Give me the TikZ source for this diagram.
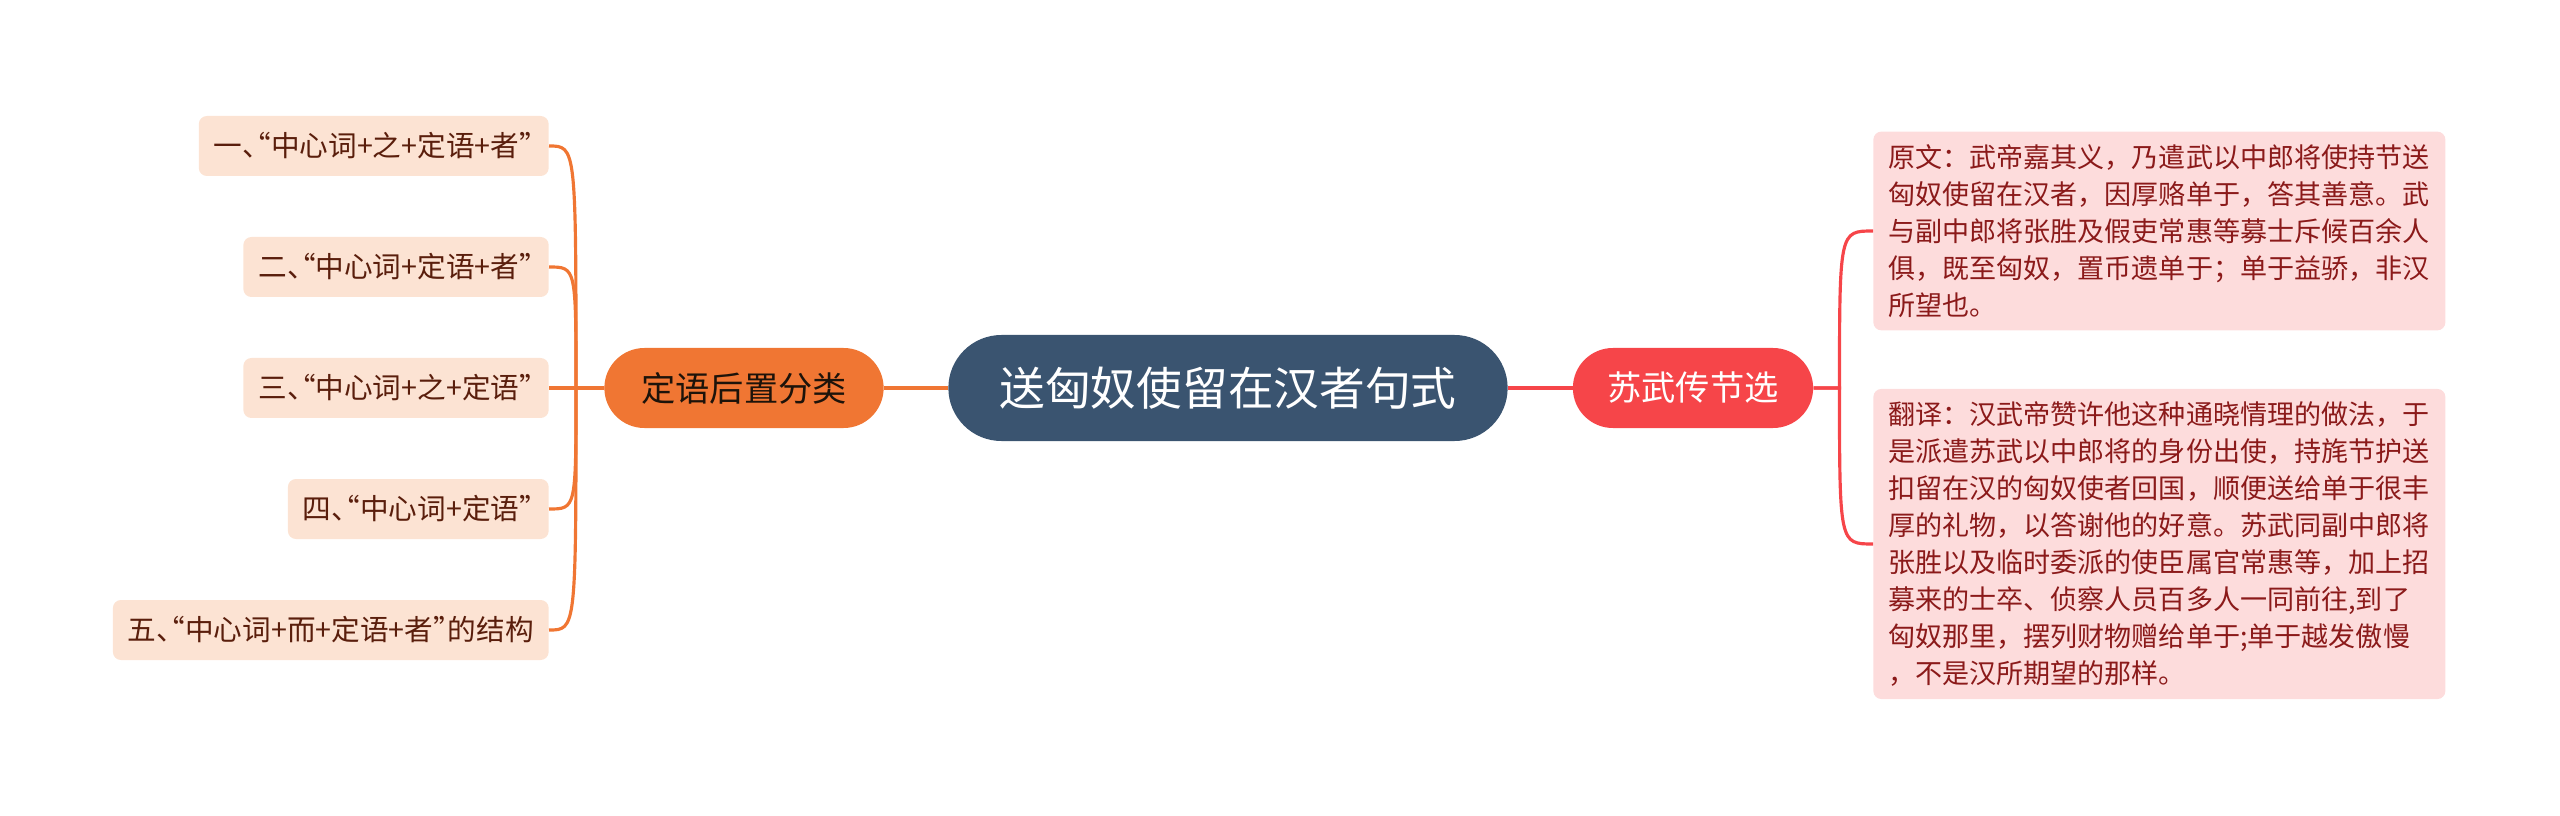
\documentclass[tikz,border=0pt]{standalone}
\usepackage{fontspec}
\newfontfamily\cjk{Noto Sans CJK SC}
\newfontfamily\cjkhalt[RawFeature=+halt]{Noto Sans CJK SC}
\usepackage{xcolor}
\definecolor{topicblue}{HTML}{3A5470}
\definecolor{mindorange}{HTML}{F07633}
\definecolor{mindred}{HTML}{F64549}
\definecolor{peach}{HTML}{FCE3D3}
\definecolor{blush}{HTML}{FDDCDC}
\definecolor{darkbrown}{HTML}{5A1E0C}
\definecolor{darkred}{HTML}{8B1A1A}
\usepackage{tikz}
\usetikzlibrary{positioning,shapes.misc,calc}
\tikzset{
  topic/.style={rounded rectangle,fill=topicblue,text=white,minimum width=11.42cm,minimum height=2.12cm,font=\cjk\fontsize{26}{30}\selectfont},
  branch/.style={rounded rectangle,minimum height=1.6cm,font=\cjk\fontsize{19.5}{24}\selectfont},
  sortleaf/.style={rectangle,rounded corners=0.16cm,fill=peach,text=darkbrown,minimum height=1.2cm,inner xsep=0.3cm,anchor=east,font=\cjkhalt\fontsize{16.3}{21}\selectfont},
  textleaf/.style={rectangle,rounded corners=0.16cm,fill=blush,text=darkred,text width=10.84cm,align=left,inner xsep=0.3cm,inner ysep=0.26cm,anchor=west,font=\cjk\fontsize{15.4}{21}\selectfont},
  conn/.style={line width=1.8pt}
}

\begin{document}
\begin{tikzpicture}
  \useasboundingbox (0,0) rectangle (51.2,16.3);

  % Topic and branches
  \node[topic] (topic) at (24.56,8.54) {送匈奴使留在汉者句式};
  \node[branch,fill=mindorange,text=black!85!brown,minimum width=5.82cm] (sort) at (14.88,8.54) {定语后置分类};
  \node[branch,fill=mindred,text=white,minimum width=5.04cm] (excerpt) at (33.86,8.54) {苏武传节选};

  % Left leaves
  \node[sortleaf] (f1) at (10.98,13.38) {一、“中心词+之+定语+者”};
  \node[sortleaf] (f2) at (10.98,10.96) {二、“中心词+定语+者”};
  \node[sortleaf] (f3) at (10.98,8.54) {三、“中心词+之+定语”};
  \node[sortleaf] (f4) at (10.98,6.12) {四、“中心词+定语”};
  \node[sortleaf] (f5) at (10.98,3.70) {五、“中心词+而+定语+者”的结构};

  % Right leaves
  \node[textleaf] (orig) at (37.46,11.68) {原文：武帝嘉其义，乃遣武以中郎将使持节送\\
    匈奴使留在汉者，因厚赂单于，答其善意。武\\
    与副中郎将张胜及假吏常惠等募士斥候百余人\\
    俱，既至匈奴，置币遗单于；单于益骄，非汉\\
    所望也。};
  \node[textleaf] (trans) at (37.46,5.42) {翻译：汉武帝赞许他这种通晓情理的做法，于\\
    是派遣苏武以中郎将的身份出使，持旄节护送\\
    扣留在汉的匈奴使者回国，顺便送给单于很丰\\
    厚的礼物，以答谢他的好意。苏武同副中郎将\\
    张胜以及临时委派的使臣属官常惠等，加上招\\
    募来的士卒、侦察人员百多人一同前往,到了\\
    匈奴那里，摆列财物赠给单于;单于越发傲慢\\
    ，不是汉所期望的那样。};

  % Connectors
  \draw[conn,mindorange] (topic.west) -- (sort.east);
  \draw[conn,mindred] (topic.east) -- (excerpt.west);
  \coordinate (lspine) at ($(sort.west)+(-0.56,0)$);
  \coordinate (rspine) at ($(excerpt.east)+(0.52,0)$);
  \foreach \n in {f1,f2,f3,f4,f5}
    \draw[conn,mindorange] (sort.west) -- (lspine) .. controls (lspine |- \n.east) .. (\n.east);
  \foreach \n in {orig,trans}
    \draw[conn,mindred] (excerpt.east) -- (rspine) .. controls (rspine |- \n.west) .. (\n.west);
\end{tikzpicture}
\end{document}
